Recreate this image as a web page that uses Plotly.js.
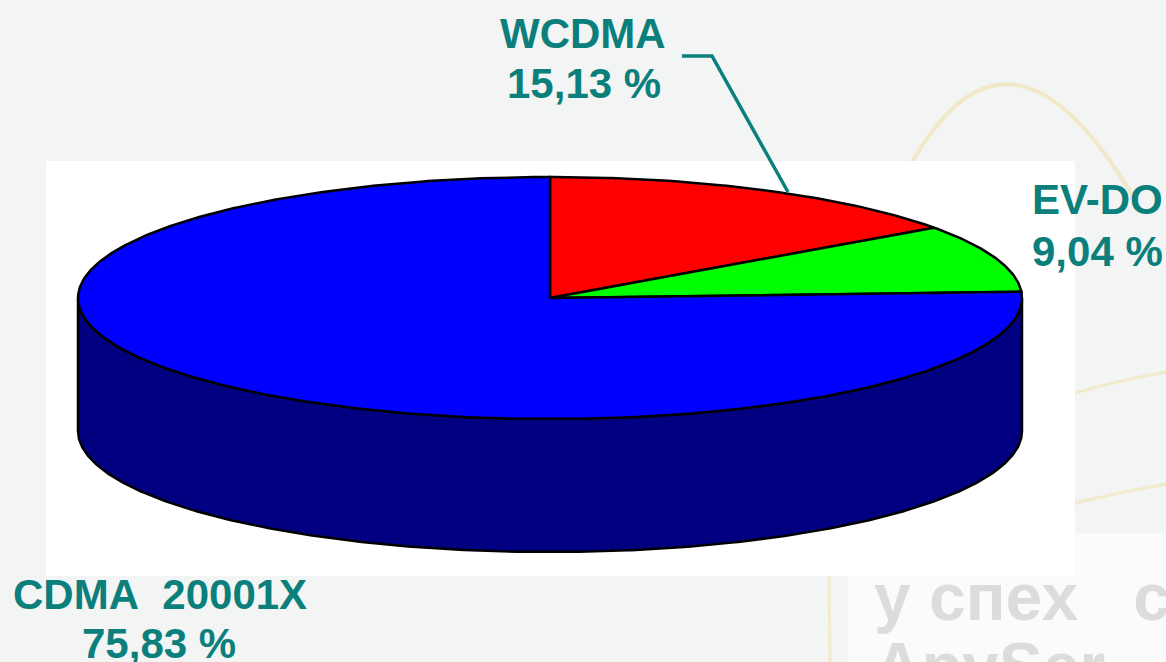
<!DOCTYPE html>
<html>
<head>
<meta charset="utf-8">
<script src="https://cdn.plot.ly/plotly-3.0.1.min.js"></script>
<style>html,body{margin:0;padding:0;background:#f3f4f4;}#chart{width:1166px;height:662px;}</style>
</head>
<body>
<div id="chart"></div>
<script>
// ---- data ----
const categories = ["WCDMA", "EV-DO", "CDMA\u00a0 20001X"];
const shares = [15.13, 9.04, 75.83];
const shareLabels = ["15,13 %", "9,04 %", "75,83 %"];
const topColors = ["#ff0000", "#00ff00", "#0000ff"];
const sideColors = ["#800000", "#008000", "#000080"];

// ---- geometry of the 3D pie (in pixel-like axis units) ----
const cx = 550, cy = 298, rx = 472, ry = 121, depth = 133;
const total = shares.reduce((a, b) => a + b, 0);

function pt(thetaDeg, dy) {
  const t = thetaDeg * Math.PI / 180;
  return [cx + rx * Math.sin(t), cy - ry * Math.cos(t) + (dy || 0)];
}
function arc(a, b, dy) {
  const n = Math.max(2, Math.ceil(Math.abs(b - a) / 0.5));
  const out = [];
  for (let i = 0; i <= n; i++) out.push(pt(a + (b - a) * i / n, dy));
  return out;
}

const traces = [];
let acc = 0;
const spans = shares.map(v => { const s = acc; acc += v; return [s / total * 360, acc / total * 360]; });

// sides (front half: 90..270 deg, clockwise from top)
spans.forEach((sp, i) => {
  const a = Math.max(sp[0], 90), b = Math.min(sp[1], 270);
  if (b <= a) return;
  const top = arc(a, b, 0), bot = arc(b, a, depth);
  const pts = top.concat(bot);
  pts.push(top[0]);
  traces.push({
    type: "scatter", mode: "lines", fill: "toself",
    x: pts.map(p => p[0]), y: pts.map(p => p[1]),
    fillcolor: sideColors[i], line: { color: "#000", width: 2.5 },
    hoverinfo: "skip", showlegend: false
  });
});

// top faces
spans.forEach((sp, i) => {
  const pts = [[cx, cy]].concat(arc(sp[0], sp[1], 0));
  pts.push([cx, cy]);
  traces.push({
    type: "scatter", mode: "lines", fill: "toself",
    x: pts.map(p => p[0]), y: pts.map(p => p[1]),
    fillcolor: topColors[i], line: { color: "#000", width: 2.5 },
    hoverinfo: "skip", showlegend: false, name: categories[i]
  });
});

const teal = "#0b7f7b";
const labFont = { family: "Arial, 'Liberation Sans', sans-serif", size: 42, color: teal, weight: "bold" };
function ann(text, x, y, xanchor) {
  return { text: text, x: x, y: y, xref: "x", yref: "y", xanchor: xanchor, yanchor: "middle",
           showarrow: false, font: labFont };
}
const wmFont = { family: "Arial, 'Liberation Sans', sans-serif", size: 66, color: "#dcdcdc", weight: "bold" };
const annotations = [
  { text: "у\u00a0спех\u00a0\u00a0\u00a0с", x: 872, y: 597, xref: "x", yref: "y", xanchor: "left", yanchor: "middle",
    showarrow: false, font: wmFont },
  { text: "ApySer", x: 872 / 1166, y: -0.006, xref: "paper", yref: "paper", xanchor: "left", yanchor: "middle",
    showarrow: false, font: wmFont },
  ann(categories[0], 583, 33, "center"),
  ann(shareLabels[0], 584, 83, "center"),
  ann(categories[1], 1030, 199, "left"),
  ann(shareLabels[1], 1030, 251, "left"),
  ann(categories[2], 160, 594, "center"),
  ann(shareLabels[2], 159, 643, "center")
];

const shapes = [
  { type: "path", layer: "below", path: "M 905 175 Q 1007 -18 1135 200", line: { color: "rgba(238,214,130,0.38)", width: 4 } },
  { type: "path", layer: "below", path: "M 1075 393 Q 1120 380 1166 372", line: { color: "rgba(238,214,130,0.35)", width: 3 } },
  { type: "path", layer: "below", path: "M 1075 503 Q 1120 492 1166 484", line: { color: "rgba(238,214,130,0.35)", width: 3 } },
  { type: "rect", layer: "below", x0: 848, x1: 1170, y0: 576, y1: 670, fillcolor: "#fbfbfb", line: { width: 0 } },
  { type: "rect", layer: "below", x0: 1075, x1: 1170, y0: 533, y1: 670, fillcolor: "#fbfbfb", line: { width: 0 } },
  { type: "path", layer: "below", path: "M 829 576 L 830 662", line: { color: "rgba(238,214,130,0.35)", width: 3 } },
  { type: "rect", layer: "below", x0: 46, x1: 1075, y0: 161, y1: 576, fillcolor: "#ffffff", line: { width: 0 } },
  { type: "path", layer: "above", path: "M 682 56 L 712 56 L 788 192", line: { color: teal, width: 3.5 } }
];

const layout = {
  width: 1166, height: 662,
  margin: { l: 0, r: 0, t: 0, b: 0 },
  paper_bgcolor: "#f3f4f4", plot_bgcolor: "rgba(0,0,0,0)",
  xaxis: { range: [0, 1166], visible: false, fixedrange: true },
  yaxis: { range: [662, 0], visible: false, fixedrange: true },
  showlegend: false,
  annotations: annotations,
  shapes: shapes
};
Plotly.newPlot("chart", traces, layout, { staticPlot: true, displayModeBar: false });
</script>
</body>
</html>
